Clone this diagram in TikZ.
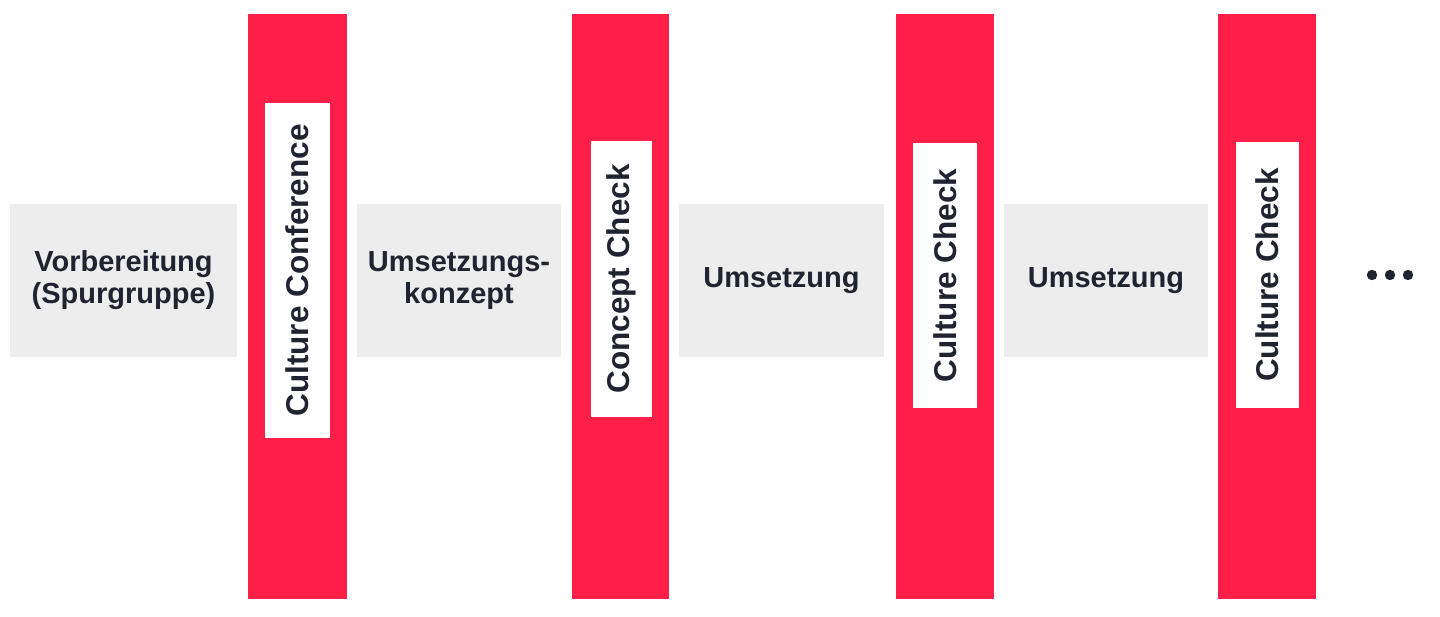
\documentclass[tikz,border=0pt]{standalone}
\usepackage{fontspec}
\setmainfont{Liberation Sans}
\definecolor{balkenrot}{HTML}{FF1F48}
\definecolor{phasengrau}{HTML}{EDEDED}
\definecolor{schrift}{HTML}{1F2430}
\begin{document}
\begin{tikzpicture}[x=1pt,y=-1pt,
  phase/.style={fill=phasengrau, inner sep=0pt, align=center, text=schrift,
    font=\fontsize{29}{32}\selectfont\bfseries, minimum height=153},
  balken/.style={fill=balkenrot, inner sep=0pt, minimum height=585},
  pruefung/.style={fill=white, inner sep=0pt, rotate=90, text=schrift,
    font=\fontsize{31.5}{34}\selectfont\bfseries}]
\useasboundingbox (0,0) rectangle (1440,617);
% Phasen
\node[phase, minimum width=227] (vorb) at (123.5,280.5) {Vorbereitung\\(Spurgruppe)};
\node[phase, minimum width=204] (konz) at (459,280.5) {Umsetzungs-\\konzept};
\node[phase, minimum width=205] (ums1) at (781.5,280.5) {Umsetzung};
\node[phase, minimum width=204] (ums2) at (1106,280.5) {Umsetzung};
% Rote Balken
\node[balken, minimum width=99] (b1) at (297.5,306.5) {};
\node[balken, minimum width=97] (b2) at (620.5,306.5) {};
\node[balken, minimum width=98] (b3) at (945,306.5) {};
\node[balken, minimum width=98] (b4) at (1267,306.5) {};
% Beschriftungen der Balken
\node[pruefung, minimum width=335, minimum height=65] (conf) at (297.5,270.5) {Culture Conference};
\node[pruefung, minimum width=276, minimum height=61] (ccheck) at (621.5,279) {Concept Check};
\node[pruefung, minimum width=265, minimum height=64] (kcheck1) at (945,275.5) {Culture Check};
\node[pruefung, minimum width=266, minimum height=63] (kcheck2) at (1267.5,275) {Culture Check};
% Fortsetzung
\fill[schrift] (1372,275) circle (5.2) (1390,275) circle (5.2) (1408,275) circle (5.2);
\end{tikzpicture}
\end{document}
